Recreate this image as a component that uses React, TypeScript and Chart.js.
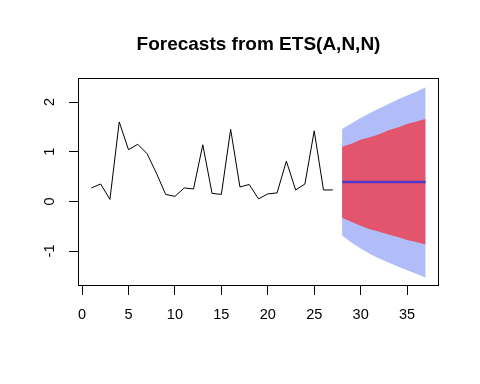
import React, { useEffect, useRef } from "react";
import { Chart, registerables } from "chart.js";

Chart.register(...registerables);

const titleText = "Forecasts from ETS(A,N,N)";
const histTimes = [1, 2, 3, 4, 5, 6, 7, 8, 9, 10, 11, 12, 13, 14, 15, 16, 17, 18, 19, 20, 21, 22, 23, 24, 25, 26, 27];
const histValues = [0.27, 0.35, 0.04, 1.6, 1.04, 1.15, 0.96, 0.57, 0.14, 0.1, 0.27, 0.25, 1.14, 0.16, 0.14, 1.45, 0.29, 0.34, 0.05, 0.15, 0.17, 0.81, 0.23, 0.35, 1.42, 0.23, 0.23];
const fcTimes = [28, 29, 30, 31, 32, 33, 34, 35, 36, 37];
const fcMean = [0.39, 0.39, 0.39, 0.39, 0.39, 0.39, 0.39, 0.39, 0.39, 0.39];
const hi80 = [1.1, 1.16, 1.24, 1.29, 1.35, 1.43, 1.49, 1.56, 1.61, 1.66];
const lo80 = [-0.33, -0.41, -0.49, -0.56, -0.61, -0.67, -0.72, -0.78, -0.82, -0.87];
const hi95 = [1.46, 1.57, 1.68, 1.78, 1.87, 1.96, 2.05, 2.13, 2.21, 2.3];
const lo95 = [-0.69, -0.83, -0.95, -1.06, -1.15, -1.23, -1.31, -1.39, -1.46, -1.54];

const xMin = -0.44;
const xMax = 38.44;
const yMin = -1.705;
const yMax = 2.485;

const FONT = "'Liberation Sans', Arial, sans-serif";

const pts = (xs: number[], ys: number[]) => xs.map((x, i) => ({ x, y: ys[i] }));

const boxAndTitle = {
  id: "boxAndTitle",
  afterDraw(chart: any) {
    const { ctx, chartArea } = chart;
    ctx.save();
    ctx.strokeStyle = "#000";
    ctx.lineWidth = 1;
    const l = Math.round(chartArea.left) + 0.5;
    const t = Math.round(chartArea.top) + 0.5;
    const r = Math.round(chartArea.right) - 0.5;
    const b = Math.round(chartArea.bottom) - 0.5;
    ctx.strokeRect(l, t, r - l, b - t);
    ctx.fillStyle = "#000";
    ctx.font = `bold 19px ${FONT}`;
    ctx.textAlign = "center";
    ctx.textBaseline = "middle";
    ctx.fillText(titleText, (chartArea.left + chartArea.right) / 2, 45);
    ctx.restore();
  },
};

export default function App() {
  const ref = useRef<HTMLCanvasElement>(null);
  useEffect(() => {
    if (!ref.current) return;
    const chart = new Chart(ref.current, {
      type: "line",
      data: {
        datasets: [
          {
            label: "mean",
            data: pts(fcTimes, fcMean),
            borderColor: "#5238c4",
            borderWidth: 2.5,
            pointRadius: 0,
            fill: false,
          },
          {
            label: "series",
            data: pts(histTimes, histValues),
            borderColor: "#000",
            borderWidth: 1,
            pointRadius: 0,
            fill: false,
          },
          {
            label: "hi80",
            data: pts(fcTimes, hi80),
            borderWidth: 0,
            borderColor: "rgba(0,0,0,0)",
            backgroundColor: "#e3556c",
            pointRadius: 0,
            fill: "+1",
          },
          {
            label: "lo80",
            data: pts(fcTimes, lo80),
            borderWidth: 0,
            borderColor: "rgba(0,0,0,0)",
            pointRadius: 0,
            fill: false,
          },
          {
            label: "hi95",
            data: pts(fcTimes, hi95),
            borderWidth: 0,
            borderColor: "rgba(0,0,0,0)",
            backgroundColor: "#b0bdf8",
            pointRadius: 0,
            fill: "+1",
          },
          {
            label: "lo95",
            data: pts(fcTimes, lo95),
            borderWidth: 0,
            borderColor: "rgba(0,0,0,0)",
            pointRadius: 0,
            fill: false,
          },
        ],
      },
      options: {
        animation: false,
        responsive: false,
        layout: { padding: { top: 78, right: 41, left: 0, bottom: 0 } },
        plugins: {
          legend: { display: false },
          title: { display: false },
          tooltip: { enabled: false },
        },
        scales: {
          x: {
            type: "linear",
            min: xMin,
            max: xMax,
            border: { display: false },
            grid: { drawOnChartArea: false, drawTicks: true, tickLength: 9, color: "#000", lineWidth: 1 },
            ticks: {
              stepSize: 5,
              includeBounds: false,
              color: "#000",
              padding: 11,
              maxRotation: 0,
              font: { size: 14.5, family: FONT },
            },
            afterFit: (s: any) => {
              s.height = 98;
            },
          },
          y: {
            type: "linear",
            min: yMin,
            max: yMax,
            border: { display: false },
            grid: { drawOnChartArea: false, drawTicks: true, tickLength: 9, color: "#000", lineWidth: 1 },
            ticks: {
              stepSize: 1,
              includeBounds: false,
              color: "#000",
              padding: 12.5,
              minRotation: 90,
              maxRotation: 90,
              crossAlign: "center",
              font: { size: 14.5, family: FONT },
            },
            afterFit: (s: any) => {
              s.width = 78;
            },
          },
        },
      },
      plugins: [boxAndTitle],
    });
    return () => chart.destroy();
  }, []);
  return (
    <div style={{ position: "absolute", left: 0, top: 0, width: 480, height: 384, background: "#fff" }}>
      <canvas ref={ref} width={480} height={384} style={{ display: "block" }} />
    </div>
  );
}
